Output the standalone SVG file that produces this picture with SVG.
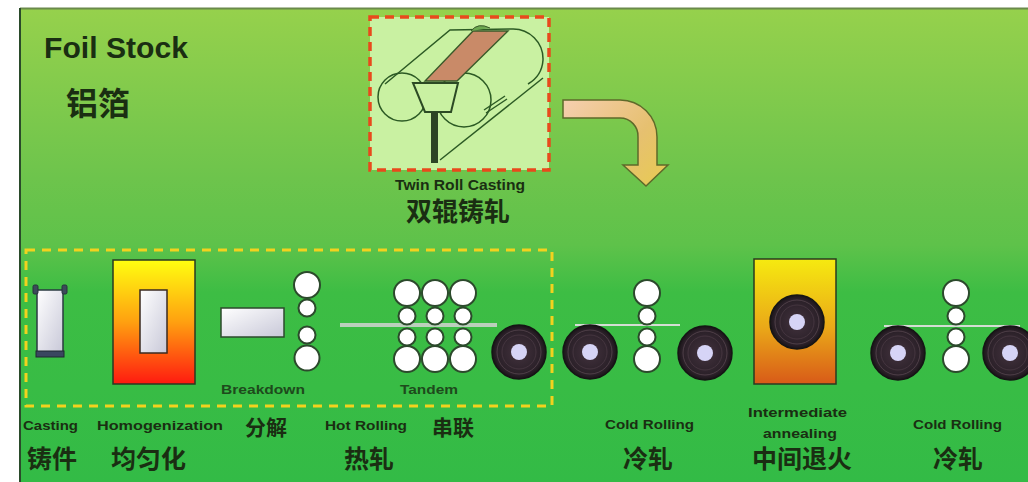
<svg xmlns="http://www.w3.org/2000/svg" width="1028" height="482" viewBox="0 0 1028 482">
  <defs>
    <linearGradient id="bg" x1="0" y1="8" x2="0" y2="482" gradientUnits="userSpaceOnUse">
      <stop offset="0" stop-color="#96d14c"/>
      <stop offset="0.36" stop-color="#6dc44c"/>
      <stop offset="0.5" stop-color="#5ec24a"/>
      <stop offset="0.6" stop-color="#3dbd44"/>
      <stop offset="1" stop-color="#33bb46"/>
    </linearGradient>
    <linearGradient id="hotFurnace" x1="0" y1="0" x2="0" y2="1">
      <stop offset="0" stop-color="#ffff10"/>
      <stop offset="0.5" stop-color="#ffa010"/>
      <stop offset="1" stop-color="#ff1a10"/>
    </linearGradient>
    <linearGradient id="annealFurnace" x1="0" y1="0" x2="0" y2="1">
      <stop offset="0" stop-color="#f6ea10"/>
      <stop offset="0.55" stop-color="#eaa818"/>
      <stop offset="1" stop-color="#d85a18"/>
    </linearGradient>
    <linearGradient id="metal" x1="0" y1="0" x2="1" y2="1">
      <stop offset="0" stop-color="#ffffff"/>
      <stop offset="1" stop-color="#c8c8d8"/>
    </linearGradient>
    <linearGradient id="bendArrow" x1="563" y1="100" x2="668" y2="186" gradientUnits="userSpaceOnUse">
      <stop offset="0" stop-color="#f6cfb0"/>
      <stop offset="0.6" stop-color="#e6c070"/>
      <stop offset="1" stop-color="#e8cc50"/>
    </linearGradient>
    <radialGradient id="coilBody" cx="0.5" cy="0.5" r="0.5">
      <stop offset="0.3" stop-color="#3a2c36"/>
      <stop offset="0.85" stop-color="#2a2028"/>
      <stop offset="1" stop-color="#1a1418"/>
    </radialGradient>
    <!-- rolled coil, side view -->
    <g id="coil">
      <circle r="27" fill="url(#coilBody)" stroke="#151515" stroke-width="1.5"/>
      <circle r="22" fill="none" stroke="#6a5660" stroke-width="0.8" opacity="0.7"/>
      <circle r="17" fill="none" stroke="#5a4852" stroke-width="0.8" opacity="0.6"/>
      <circle r="8" fill="#d6d4f6"/>
    </g>
    <!-- four-high mill stand: backup, work, work, backup -->
    <g id="stand4" fill="#ffffff" stroke="#2c4a2c" stroke-width="2">
      <circle cy="-33" r="13"/>
      <circle cy="-10" r="8.5"/>
      <circle cy="11" r="8.5"/>
      <circle cy="33" r="13"/>
    </g>
  </defs>
  <style>
    .en { font-family: "Liberation Sans", Arial, sans-serif; font-weight: bold; fill: #1a2e12; }
    .zh { font-family: "Noto Sans CJK SC", sans-serif; font-weight: bold; fill: #1a2e12; }
    .sub { font-family: "Liberation Sans", Arial, sans-serif; font-weight: bold; fill: #1e4a1c; font-size: 12.5px; }
    .edge { stroke: #2c5a24; stroke-width: 1.5; fill: none; }
    .roll { fill: #ffffff; stroke: #2c4a2c; stroke-width: 2; }
  </style>

  <!-- panel -->
  <rect x="0" y="0" width="1028" height="482" fill="#ffffff"/>
  <rect x="20" y="8" width="1008" height="474" fill="url(#bg)"/>
  <line x1="20" y1="8.5" x2="1028" y2="8.5" stroke="#6a8a4a" stroke-width="2"/>
  <line x1="20" y1="8" x2="20" y2="482" stroke="#2a4a2a" stroke-width="2"/>

  <!-- title -->
  <g id="title">
    <text class="en" x="44" y="58" font-size="29" textLength="144" lengthAdjust="spacingAndGlyphs">Foil Stock</text>
    <text class="zh" x="66" y="115" font-size="32">铝箔</text>
  </g>

  <!-- twin roll casting -->
  <g id="twin-roll-casting">
    <rect x="370" y="17" width="179" height="153" fill="#c9f1a2" stroke="#e84a1c" stroke-width="3.5" stroke-dasharray="9 6"/>
    <!-- roll outlines -->
    <path class="edge" d="M385,84 L450,30 L512,29 A30,30 0 0 1 543,60 A30,30 0 0 1 528,84"/>
    <path class="edge" d="M440,160 L543,78"/>
    <path class="edge" d="M484,110 L505,96 M486,113 L507,99"/>
    <circle class="edge" cx="402" cy="97" r="24"/>
    <circle class="edge" cx="464" cy="100" r="27"/>
    <!-- strip between the rolls -->
    <path d="M425,81 L457,81 L508,31 L473,31 Z" fill="#c98a68" stroke="#3a5a2a" stroke-width="1.4"/>
    <path d="M471,31 Q478,22 490,28" fill="#6ca850" stroke="#3a5a2a" stroke-width="1"/>
    <!-- feed nozzle -->
    <path d="M413,83 L458,83 L451,112 L425,112 Z" fill="#c9f1a2" stroke="#2c4a24" stroke-width="2"/>
    <rect x="431" y="112" width="7" height="51" fill="#2c4424"/>
    <text class="en" x="395" y="190" font-size="15" textLength="130" lengthAdjust="spacingAndGlyphs">Twin Roll Casting</text>
    <text class="zh" x="458" y="221" font-size="26" text-anchor="middle">双辊铸轧</text>
  </g>

  <!-- connectors -->
  <g id="connectors">
    <path d="M563,100 H620 A37,37 0 0 1 657,137 V165 H668 L646,186 L623,165 H638 V137 A18,18 0 0 0 620,118 H563 Z" fill="url(#bendArrow)" stroke="#5e6a2a" stroke-width="1.5"/>
    <line x1="340" y1="325" x2="497" y2="325" stroke="#c9d3c9" stroke-width="4" opacity="0.9"/>
    <line x1="575" y1="325" x2="680" y2="325" stroke="#d4ddd4" stroke-width="2"/>
    <line x1="884" y1="326" x2="1020" y2="326" stroke="#d4ddd4" stroke-width="2"/>
  </g>

  <!-- hot line boundary -->
  <rect id="hot-line" x="26" y="250" width="526" height="156" fill="none" stroke="#f2d21e" stroke-width="3" stroke-dasharray="9 7"/>

  <g id="casting">
    <rect x="37" y="290" width="26" height="63" fill="url(#metal)" stroke="#2a3a40" stroke-width="1.5"/>
    <rect x="33" y="285" width="5" height="9" rx="1.5" fill="#3c4a5a" stroke="#26323a" stroke-width="1"/>
    <rect x="62" y="285" width="5" height="9" rx="1.5" fill="#3c4a5a" stroke="#26323a" stroke-width="1"/>
    <rect x="36" y="351" width="28" height="6" fill="#3a4660" stroke="#1e2830" stroke-width="1"/>
    <text class="en" x="23" y="430" font-size="13.5" textLength="55" lengthAdjust="spacingAndGlyphs">Casting</text>
    <text class="zh" x="27" y="468" font-size="25">铸件</text>
  </g>

  <g id="homogenization">
    <rect x="113" y="260" width="82" height="124" fill="url(#hotFurnace)" stroke="#2a3a20" stroke-width="1.5"/>
    <rect x="140" y="290" width="27" height="63" fill="url(#metal)" stroke="#3a2a20" stroke-width="1.5"/>
    <text class="en" x="97" y="430" font-size="13.5" textLength="126" lengthAdjust="spacingAndGlyphs">Homogenization</text>
    <text class="zh" x="111" y="468" font-size="25">均匀化</text>
  </g>

  <g id="breakdown">
    <rect x="221" y="308" width="63" height="29" fill="url(#metal)" stroke="#2c4a2c" stroke-width="1.5"/>
    <circle class="roll" cx="307" cy="285" r="13"/>
    <circle class="roll" cx="307" cy="308" r="8.5"/>
    <circle class="roll" cx="307" cy="335" r="8.5"/>
    <circle class="roll" cx="307" cy="358" r="12.5"/>
    <text class="sub" x="221" y="394" textLength="84" lengthAdjust="spacingAndGlyphs">Breakdown</text>
    <text class="zh" x="245" y="435" font-size="21">分解</text>
  </g>

  <g id="hot-rolling">
    <use href="#stand4" x="407" y="326"/>
    <use href="#stand4" x="435" y="326"/>
    <use href="#stand4" x="463" y="326"/>
    <text class="sub" x="400" y="394" textLength="58" lengthAdjust="spacingAndGlyphs">Tandem</text>
    <text class="en" x="325" y="430" font-size="13.5" textLength="82" lengthAdjust="spacingAndGlyphs">Hot Rolling</text>
    <text class="zh" x="432" y="435" font-size="21">串联</text>
    <text class="zh" x="344" y="468" font-size="25">热轧</text>
  </g>

  <g id="hot-coil">
    <use href="#coil" x="519" y="352"/>
  </g>

  <g id="cold-rolling-1">
    <use href="#coil" x="590" y="352"/>
    <use href="#stand4" x="647" y="326"/>
    <use href="#coil" x="705" y="353"/>
    <text class="en" x="605" y="429" font-size="13.5" textLength="89" lengthAdjust="spacingAndGlyphs">Cold Rolling</text>
    <text class="zh" x="623" y="468" font-size="25">冷轧</text>
  </g>

  <g id="intermediate-annealing">
    <rect x="754" y="259" width="82" height="125" fill="url(#annealFurnace)" stroke="#2a3a20" stroke-width="1.5"/>
    <use href="#coil" x="797" y="322"/>
    <text class="en" x="748" y="417" font-size="13.5" textLength="99" lengthAdjust="spacingAndGlyphs">Intermediate</text>
    <text class="en" x="763" y="438" font-size="13.5" textLength="74" lengthAdjust="spacingAndGlyphs">annealing</text>
    <text class="zh" x="752" y="468" font-size="25">中间退火</text>
  </g>

  <g id="cold-rolling-2">
    <use href="#coil" x="898" y="353"/>
    <use href="#stand4" x="956" y="326"/>
    <use href="#coil" x="1010" y="353"/>
    <text class="en" x="913" y="429" font-size="13.5" textLength="89" lengthAdjust="spacingAndGlyphs">Cold Rolling</text>
    <text class="zh" x="933" y="468" font-size="25">冷轧</text>
  </g>
</svg>
